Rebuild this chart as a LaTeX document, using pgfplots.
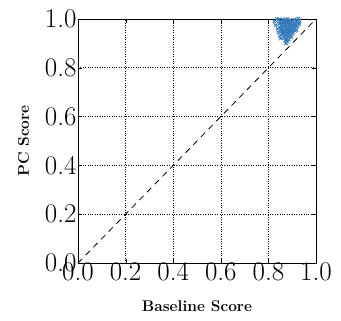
\documentclass[border=0pt]{standalone}
\usepackage{pgfplots}
\pgfplotsset{compat=1.18}
\definecolor{ptblue}{RGB}{52,120,186}
\begin{document}
\begin{tikzpicture}
\begin{axis}[
  width=238pt, height=244pt, scale only axis,
  xmin=0, xmax=1, ymin=0, ymax=1,
  xtick={0,0.2,0.4,0.6,0.8,1.0}, ytick={0,0.2,0.4,0.6,0.8,1.0},
  xticklabel style={yshift=4pt,/pgf/number format/.cd,fixed,fixed zerofill,precision=1,assume math mode=true},
  yticklabel style={xshift=2pt,/pgf/number format/.cd,fixed,fixed zerofill,precision=1,assume math mode=true},
  tick label style={font=\fontsize{27}{29}\selectfont},
  grid=major, major grid style={black, dotted, line width=0.6pt},
  tick align=inside, major tick length=4pt, tick style={black},
  axis line style={black, line width=0.8pt},
  xlabel={\bfseries Baseline Score}, ylabel={\bfseries PC Score},
  label style={font=\fontsize{15.5}{17}\selectfont},
  xlabel style={yshift=-13pt}, ylabel style={yshift=9pt},
  clip=false,
]
\addplot[black, line width=0.8pt, dash pattern=on 6pt off 5pt] coordinates {(0,0) (1,1)};
\addplot[only marks, mark=x, mark size=2.4pt, color=ptblue, line width=0.9pt] coordinates {
(0.840,0.995) (0.850,0.990) (0.860,0.998) (0.870,0.992) (0.880,1.000) (0.890,0.995)
(0.900,0.990) (0.910,0.998) (0.920,0.993) (0.930,0.985) (0.925,1.002) (0.845,0.980)
(0.855,0.975) (0.865,0.982) (0.875,0.978) (0.885,0.985) (0.895,0.980) (0.905,0.975)
(0.915,0.980) (0.922,0.970) (0.850,0.965) (0.860,0.960) (0.870,0.968) (0.880,0.962)
(0.890,0.970) (0.900,0.960) (0.910,0.965) (0.918,0.955) (0.855,0.950) (0.865,0.945)
(0.875,0.952) (0.885,0.948) (0.895,0.950) (0.905,0.945) (0.860,0.938) (0.870,0.935)
(0.880,0.940) (0.890,0.935) (0.900,0.938) (0.865,0.925) (0.875,0.920) (0.885,0.928)
(0.870,0.912) (0.880,0.908) (0.835,1.000) (0.825,0.990) (0.830,0.975) (0.838,0.960)
(0.842,0.945) (0.848,0.930) (0.852,0.920) (0.930,0.995) (0.928,0.978) (0.872,0.998)
(0.888,0.975) (0.898,0.992) (0.908,0.985) (0.912,0.952) (0.866,0.955) (0.878,0.930)
(0.845,0.998) (0.855,0.985) (0.865,0.970) (0.875,0.990) (0.885,0.960) (0.895,0.965)
(0.905,0.955) (0.915,0.990) (0.862,0.988) (0.882,0.982) (0.892,0.945) (0.902,0.970)
(0.858,0.942) (0.868,0.948) (0.878,0.958) (0.896,0.925) (0.886,0.915) (0.874,0.900)
(0.852,0.958) (0.872,0.975) (0.893,0.958) (0.913,0.972) (0.883,0.992) (0.863,0.993)
};
\end{axis}
\path ([shift={(-78pt,-57pt)}]current axis.south west) rectangle ([shift={(25pt,19pt)}]current axis.north east);
\end{tikzpicture}
\end{document}
